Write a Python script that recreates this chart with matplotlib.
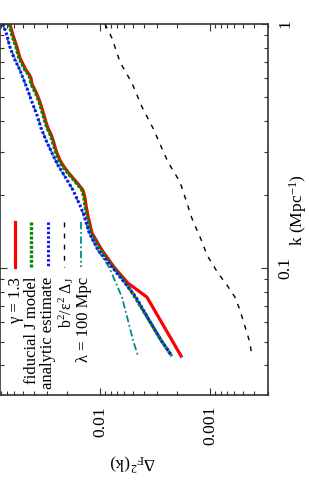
import matplotlib
matplotlib.use("Agg")
import matplotlib.pyplot as plt
from matplotlib.ticker import FixedLocator, NullFormatter

plt.rcParams['font.family'] = 'Liberation Serif'
plt.rcParams['mathtext.fontset'] = 'custom'
plt.rcParams['mathtext.rm'] = 'Liberation Serif'
plt.rcParams['mathtext.it'] = 'Liberation Serif:italic'
plt.rcParams['font.size'] = 12.6

# k (Mpc^-1) values shared by the simulation curves
k_main = [1.0, 0.901, 0.805, 0.726, 0.686, 0.648, 0.624, 0.601, 0.568, 0.547,
          0.517, 0.479, 0.452, 0.424, 0.397, 0.375, 0.354, 0.335, 0.313, 0.296,
          0.277, 0.264, 0.247, 0.234, 0.221, 0.209, 0.195, 0.181, 0.165, 0.139,
          0.1185, 0.101, 0.0868, 0.0760]

# gamma = 1.3
red_k = k_main + [0.0436]
red_d = [0.0658, 0.0618, 0.0568, 0.0534, 0.0501, 0.0471, 0.0442, 0.0424, 0.0415, 0.0398,
         0.0374, 0.0351, 0.0337, 0.0323, 0.0310, 0.0297, 0.0279, 0.0267, 0.0256, 0.0246,
         0.0231, 0.0217, 0.0195, 0.0176, 0.0158, 0.0143, 0.0137, 0.0134, 0.0129, 0.0118,
         0.00959, 0.00746, 0.00557, 0.00374, 0.00183]

# fiducial J model
green_k = k_main[:-1] + [0.0760, 0.0612, 0.0507, 0.0436]
green_d = [0.0672, 0.0631, 0.0580, 0.0545, 0.0512, 0.0481, 0.0451, 0.0433, 0.0424, 0.0406,
           0.0382, 0.0358, 0.0344, 0.0330, 0.0316, 0.0303, 0.0285, 0.0273, 0.0261, 0.0251,
           0.0236, 0.0222, 0.0199, 0.0180, 0.0161, 0.0146, 0.0140, 0.0137, 0.0132, 0.0120,
           0.00979, 0.00762, 0.00580, 0.00481, 0.00358, 0.00279, 0.00222]

# analytic estimate
blue_k = [1.0, 0.901, 0.805, 0.726, 0.648, 0.601, 0.547, 0.479, 0.424, 0.375,
          0.335, 0.296, 0.264, 0.234, 0.209, 0.181, 0.165, 0.139, 0.1185, 0.101,
          0.0868, 0.0760, 0.0612, 0.0507, 0.0436]
blue_d = [0.0762, 0.0701, 0.0658, 0.0605, 0.0534, 0.0501, 0.0461, 0.0415, 0.0374, 0.0344,
          0.0310, 0.0273, 0.0241, 0.0204, 0.0176, 0.0152, 0.0140, 0.0125, 0.01043, 0.00778,
          0.00593, 0.00471, 0.00358, 0.00279, 0.00222]

# b^2/eps^2 Delta_J
black_k = [1.0, 0.876, 0.699, 0.573, 0.457, 0.375, 0.272, 0.225, 0.160, 0.128,
           0.113, 0.0954, 0.0852, 0.0760, 0.0673, 0.0612, 0.0542, 0.0493, 0.0432]
black_d = [0.00901, 0.00778, 0.00658, 0.00512, 0.00415, 0.00330, 0.00241, 0.00187, 0.00146, 0.00118,
           0.001065, 0.000846, 0.000701, 0.000593, 0.000534, 0.000501, 0.000461, 0.000433, 0.000415]

# lambda = 100 Mpc
teal_k = [1.0, 0.805, 0.648, 0.547, 0.424, 0.335, 0.264, 0.209, 0.165, 0.139,
          0.1185, 0.101, 0.0868, 0.0760, 0.0612, 0.0507, 0.0436]
teal_d = [0.0762, 0.0658, 0.0534, 0.0461, 0.0374, 0.0310, 0.0241, 0.0176, 0.0140, 0.0125,
          0.01043, 0.00828, 0.00715, 0.00631, 0.00557, 0.00501, 0.00451]

labels = ["\u03b3 = 1.3", "fiducial J model", "analytic estimate",
          "b$^{2}$/\u03b5$^{2}$ \u0394$_{\\rm J}$", "\u03bb = 100 Mpc"]

styles = [
    dict(color='#ff0000', lw=2.3, ls='-'),
    dict(color='#008a00', lw=2.4, ls=(0, (0.9, 0.5)), dash_capstyle='butt'),
    dict(color='#1010ff', lw=2.2, ls=(0, (0.8, 0.7)), dash_capstyle='butt'),
    dict(color='black', lw=1.0, ls=(0, (3.5, 4.5))),
    dict(color='#008b8b', lw=1.3, ls=(0, (4, 1.5, 1, 1.5))),
]

W, H = 309, 480
fig = plt.figure(figsize=(W / 100, H / 100), dpi=100)
# the chart is drawn turned a quarter turn: Delta runs right-to-left, k runs upward
ax = fig.add_axes([0.0, 1 - 395 / H, 268 / W, (395 - 24) / H])

ax.plot(red_d, red_k, **styles[0])
ax.plot(teal_d, teal_k, **styles[4])
ax.plot(green_d, green_k, **styles[1])
ax.plot(blue_d, blue_k, **styles[2])
ax.plot(black_d, black_k, **styles[3])

ax.set_xscale('log')
ax.set_yscale('log')
ax.set_xlim(0.081, 2.97e-4)
ax.set_ylim(0.0302, 1.0)

ax.xaxis.set_major_locator(FixedLocator([0.01, 0.001]))
ax.set_xticklabels(['0.01', '0.001'])
ax.yaxis.set_major_locator(FixedLocator([0.1, 1.0]))
ax.set_yticklabels(['0.1', '1'])
ax.xaxis.set_minor_formatter(NullFormatter())
ax.yaxis.set_minor_formatter(NullFormatter())

ax.tick_params(which='both', direction='in', top=True, bottom=True, left=True, right=True,
               color='#333333', width=0.8)
ax.tick_params(which='major', length=5)
ax.tick_params(which='minor', length=3)
ax.tick_params(axis='y', labelleft=False, labelright=True, pad=7)
ax.tick_params(axis='x', pad=8)
for t in ax.get_xticklabels():
    t.set_rotation(90)
    t.set_ha('center')
    t.set_va('top')
for t in ax.get_yticklabels():
    t.set_rotation(90)
    t.set_ha('left')
    t.set_va('center')

for s in ax.spines.values():
    s.set_color('#333333')
    s.set_linewidth(1.2)

# axis titles
fig.text(133 / W, 1 - 462 / H, "\u0394$_{\\rm F}$$^{2}$(k)", rotation=180, ha='center', va='center')
fig.text(298 / W, 1 - 210 / H, "k (Mpc$^{-1}$)", rotation=90, ha='center', va='center')

# key, drawn by hand because it is turned too
key_x = [15, 31, 48, 64, 81]
text_dx = [1, 1, 0, 2, 3]
text_size = [12, 12, 12, 11.3, 12]
for i in range(5):
    xf = key_x[i] / W
    fig.add_artist(plt.Line2D([xf, xf], [1 - 222 / H, 1 - 267 / H], transform=fig.transFigure,
                              **styles[i]))
    fig.text(xf + text_dx[i] / W, 1 - 277 / H, labels[i], rotation=90, ha='center', va='top',
             fontsize=text_size[i])

fig.savefig("out.png", dpi=100)
